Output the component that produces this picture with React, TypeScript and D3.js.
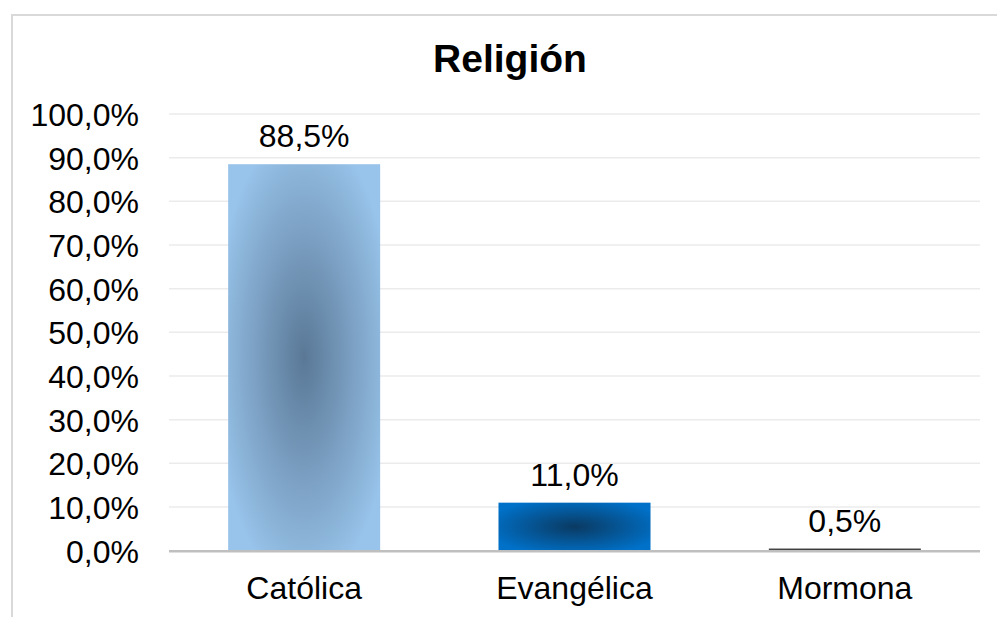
import React from "react";
import * as d3 from "d3";

const categories = ["Católica", "Evangélica", "Mormona"];
const values = [0.885, 0.11, 0.005];
const valueLabels = ["88,5%", "11,0%", "0,5%"];
const yTicks = [0, 0.1, 0.2, 0.3, 0.4, 0.5, 0.6, 0.7, 0.8, 0.9, 1.0];
const yTickLabels = ["0,0%", "10,0%", "20,0%", "30,0%", "40,0%", "50,0%", "60,0%", "70,0%", "80,0%", "90,0%", "100,0%"];
const gradients = [
  { edge: "#98c3ea", center: "#5a7896" },
  { edge: "#0071c9", center: "#0a3a62" },
  { edge: "#4a4a4a", center: "#333333" },
];

const W = 997;
const H = 617;
const FONT = "'Liberation Sans', Arial, Helvetica, sans-serif";

export default function App() {
  const x = d3
    .scaleBand<string>()
    .domain(categories)
    .range([169, 980])
    .paddingInner(0.4377)
    .paddingOuter(0.2188);
  const y = d3.scaleLinear().domain([0, 1]).range([550.7, 114]);

  return (
    <svg
      width={W}
      height={H}
      style={{ position: "absolute", left: 0, top: 0, background: "#fff" }}
      fontFamily={FONT}
    >
      <defs>
        {gradients.map((g, i) => (
          <radialGradient key={i} id={`grad${i}`} cx="0.5" cy="0.5" r="0.6">
            <stop offset="0" stopColor={g.center} />
            <stop offset="1" stopColor={g.edge} />
          </radialGradient>
        ))}
      </defs>
      <rect x={0} y={0} width={W} height={H} fill="#fff" />
      <rect x={12} y={15} width={1010} height={650} fill="none" stroke="#d9d9d9" strokeWidth={2} />

      <text x={510} y={72} textAnchor="middle" fontSize={39} fontWeight="bold" fill="#000">
        Religión
      </text>

      {yTicks.slice(1).map((t) => (
        <line key={t} x1={169} x2={980} y1={y(t)} y2={y(t)} stroke="#ebebeb" strokeWidth={1.5} />
      ))}

      {yTicks.map((t, i) => (
        <text key={t} x={139} y={y(t) + 12} textAnchor="end" fontSize={32} fill="#000">
          {yTickLabels[i]}
        </text>
      ))}

      {categories.map((c, i) => (
        <rect
          key={c}
          x={x(c)}
          y={y(values[i])}
          width={x.bandwidth()}
          height={y(0) - y(values[i])}
          fill={`url(#grad${i})`}
        />
      ))}

      <line x1={169} x2={980} y1={y(0) + 0.5} y2={y(0) + 0.5} stroke="#bfbfbf" strokeWidth={2.5} />

      {categories.map((c, i) => (
        <text
          key={c}
          x={(x(c) as number) + x.bandwidth() / 2}
          y={y(values[i]) - 17}
          textAnchor="middle"
          fontSize={32}
          fill="#000"
        >
          {valueLabels[i]}
        </text>
      ))}

      {categories.map((c) => (
        <text
          key={c}
          x={(x(c) as number) + x.bandwidth() / 2}
          y={599}
          textAnchor="middle"
          fontSize={32}
          fill="#000"
        >
          {c}
        </text>
      ))}
    </svg>
  );
}
